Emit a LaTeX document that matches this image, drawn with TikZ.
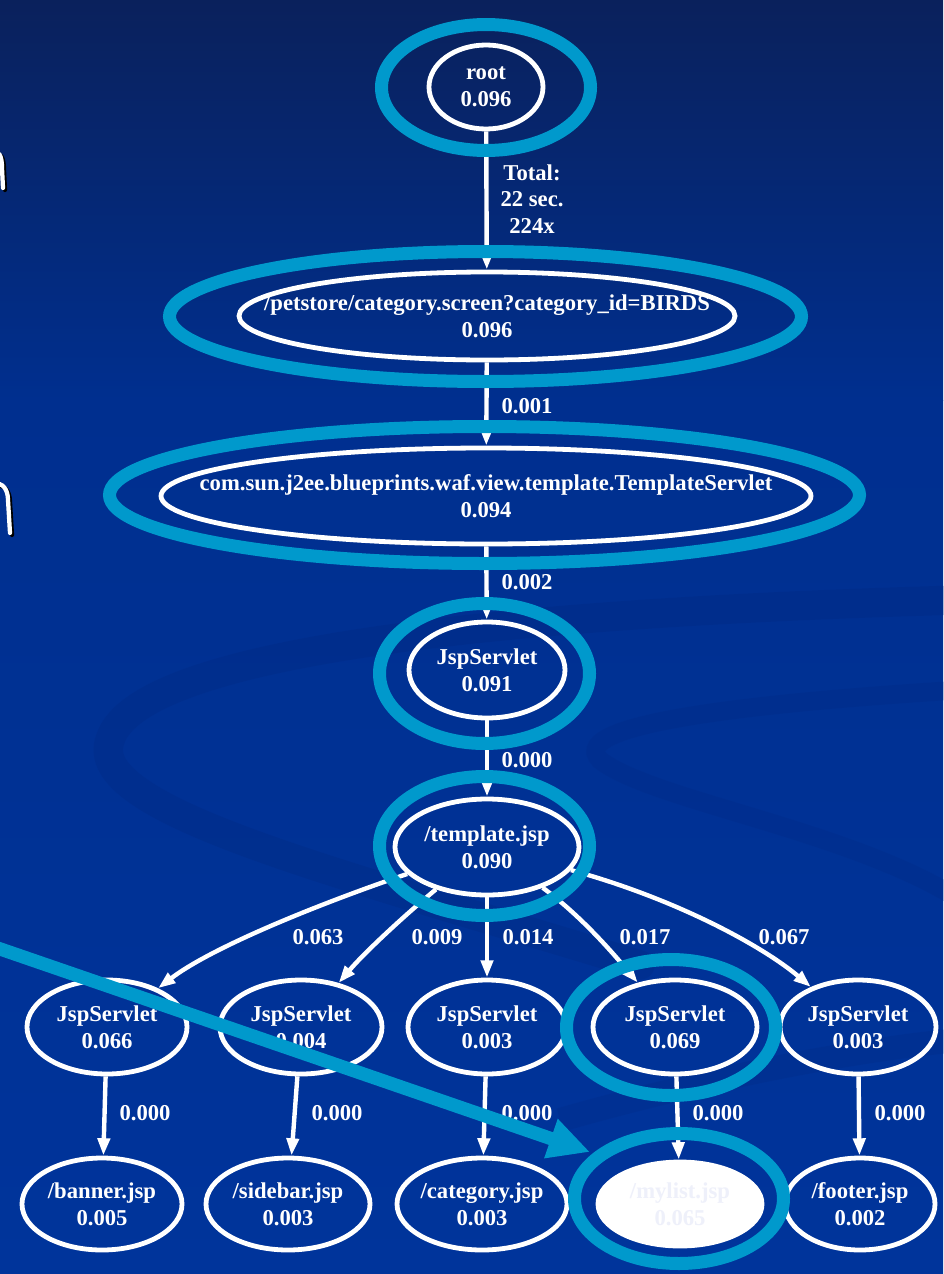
\documentclass[tikz,border=0pt]{standalone}
\usepackage{fontspec}
\setmainfont{Liberation Serif}
\usetikzlibrary{arrows.meta,shapes.geometric}
\definecolor{bgtop}{RGB}{10,33,92}
\definecolor{bgmid}{RGB}{0,47,143}
\definecolor{bgbot}{RGB}{0,52,155}
\definecolor{ringc}{RGB}{0,153,204}
\definecolor{swirl}{RGB}{0,36,118}
\definecolor{faint}{RGB}{238,240,250}
\tikzset{
  gnode/.style={ellipse, draw=white, line width=3.6pt, inner sep=0pt},
  gtxt/.style={text=white, align=center, inner sep=0pt, font=\bfseries\fontsize{17}{20}\selectfont},
  elabel/.style={gtxt},
  gedge/.style={draw=white, line width=3.3pt, -{Triangle[length=13pt,width=9pt]}},
  ring/.style={ellipse, draw=ringc, line width=9.75pt, inner sep=0pt},
  bigarrow/.style={draw=ringc, line width=10pt, -{Triangle[length=31pt,width=29pt]}},
  frag/.style={line width=3.2pt, line cap=round}
}
\begin{document}
\begin{tikzpicture}[x=0.75pt,y=-0.75pt]
\useasboundingbox (0,0) rectangle (943,1274);
% background
\fill[top color=bgtop, bottom color=bgmid] (0,0) rectangle (943,400);
\fill[top color=bgmid, bottom color=bgbot] (0,400) rectangle (943,1274);
% faint background swirls
\draw[swirl, line width=22pt, opacity=.2, line cap=round]
  (960,600) .. controls (600,610) and (140,640) .. (110,740)
  .. controls (85,810) and (330,870) .. (640,965);
\draw[swirl, line width=14pt, opacity=.16, line cap=round]
  (960,690) .. controls (800,700) and (560,720) .. (600,760)
  .. controls (650,800) and (850,830) .. (960,900);
\draw[swirl, line width=18pt, opacity=.15]
  (560,1120) .. controls (700,1080) and (850,1050) .. (960,1040);
% left-edge fragments
\draw[frag, black] (-6,154) .. controls (1,152) and (4,158) .. (4,170) -- (5,190);
\draw[frag, white] (-8,152) .. controls (-1,150) and (2,156) .. (2,168) -- (3,188);
\draw[frag, black] (-4,486) .. controls (5,484) and (10,492) .. (10,502) -- (12,535);
\draw[frag, white] (-6,484) .. controls (3,482) and (8,490) .. (8,500) -- (10,533);
% graph nodes
\node[gnode, minimum width=85.5pt, minimum height=63pt] (root) at (486,87) {};
\node[gtxt] at (root) {root\\0.096};
\node[gnode, minimum width=372pt, minimum height=66pt] (n2) at (487,316) {};
\node[gtxt] at (n2) {/petstore/category.screen?category\_id=BIRDS\\0.096};
\node[gnode, minimum width=487.5pt, minimum height=72pt] (n3) at (486,496) {};
\node[gtxt] at (n3) {com.sun.j2ee.blueprints.waf.view.template.TemplateServlet\\0.094};
\node[gnode, minimum width=117pt, minimum height=72pt] (n4) at (487,670) {};
\node[gtxt] at (n4) {JspServlet\\0.091};
\node[gnode, minimum width=138pt, minimum height=72pt] (n5) at (487,847) {};
\node[gtxt] at (n5) {/template.jsp\\0.090};
\node[gnode, minimum width=120pt, minimum height=70.5pt] (A) at (107,1027) {};
\node[gtxt] at (A) {JspServlet\\0.066};
\node[gnode, minimum width=121.5pt, minimum height=70.5pt] (B) at (301,1027) {};
\node[gtxt] at (B) {JspServlet\\0.004};
\node[gnode, minimum width=118.5pt, minimum height=70.5pt] (C) at (487,1027) {};
\node[gtxt] at (C) {JspServlet\\0.003};
\node[gnode, minimum width=123pt, minimum height=70.5pt] (D) at (675,1027) {};
\node[gtxt] at (D) {JspServlet\\0.069};
\node[gnode, minimum width=117pt, minimum height=70.5pt] (E) at (858,1027) {};
\node[gtxt] at (E) {JspServlet\\0.003};
\node[gnode, minimum width=120pt, minimum height=69pt] (a) at (102,1204) {};
\node[gtxt] at (a) {/banner.jsp\\0.005};
\node[gnode, minimum width=123pt, minimum height=69pt] (b) at (288,1204) {};
\node[gtxt] at (b) {/sidebar.jsp\\0.003};
\node[gnode, minimum width=127.5pt, minimum height=69pt] (c) at (482,1204) {};
\node[gtxt] at (c) {/category.jsp\\0.003};
\node[gnode, fill=white, minimum width=123pt, minimum height=63pt] (d) at (680,1204) {};
\node[gtxt, text=faint] at (d) {/mylist.jsp\\0.065};
\node[gnode, minimum width=112.5pt, minimum height=69pt] (e) at (860,1204) {};
\node[gtxt] at (e) {/footer.jsp\\0.002};
% edges
\draw[gedge] (root) -- (n2);
\draw[gedge] (n2) -- (n3);
\draw[gedge] (n3) -- (n4);
\draw[gedge] (n4) -- (n5);
\draw[gedge] (n5) .. controls (330,900) and (215,945) .. (A);
\draw[gedge] (n5) .. controls (405,915) and (365,952) .. (B);
\draw[gedge] (n5) -- (C);
\draw[gedge] (n5) .. controls (580,915) and (612,952) .. (D);
\draw[gedge] (n5) .. controls (680,900) and (765,948) .. (E);
\draw[gedge] (A) -- (a);
\draw[gedge] (B) -- (b);
\draw[gedge] (C) -- (c);
\draw[gedge] (D) -- (d);
\draw[gedge] (E) -- (e);
% edge labels
\node[elabel] (l1) at (532,199) {Total:\\22 sec.\\224x};
\node[elabel] (l2) at (527,406) {0.001};
\node[elabel] (l3) at (527,582) {0.002};
\node[elabel] (l4) at (527,760) {0.000};
\node[elabel] (l5) at (318,937) {0.063};
\node[elabel] (l6) at (437,937) {0.009};
\node[elabel] (l7) at (528,937) {0.014};
\node[elabel] (l8) at (645,937) {0.017};
\node[elabel] (l9) at (784,937) {0.067};
\node[elabel] (l10) at (145,1113) {0.000};
\node[elabel] (l11) at (337,1113) {0.000};
\node[elabel] (l12) at (527,1113) {0.000};
\node[elabel] (l13) at (718,1113) {0.000};
\node[elabel] (l14) at (900,1113) {0.000};
% highlight rings
\node[ring, minimum width=156.75pt, minimum height=94.5pt] (r1) at (486,87.5) {};
\node[ring, minimum width=474pt, minimum height=97.5pt] (r2) at (485.5,316.5) {};
\node[ring, minimum width=562.5pt, minimum height=102.75pt] (r3) at (484.5,495) {};
\node[ring, minimum width=157.5pt, minimum height=105pt] (r4) at (484.5,673.5) {};
\node[ring, minimum width=157.5pt, minimum height=104.25pt] (r5) at (484.5,846) {};
\node[ring, minimum width=156.75pt, minimum height=102pt] (r6) at (671,1027.5) {};
\node[ring, minimum width=156.75pt, minimum height=97.5pt] (r7) at (679,1198.5) {};
% pointer arrow
\coordinate (cstart) at (-20,942);
\coordinate (ctip) at (590,1152);
\draw[bigarrow] (cstart) -- (ctip);
\end{tikzpicture}
\end{document}
